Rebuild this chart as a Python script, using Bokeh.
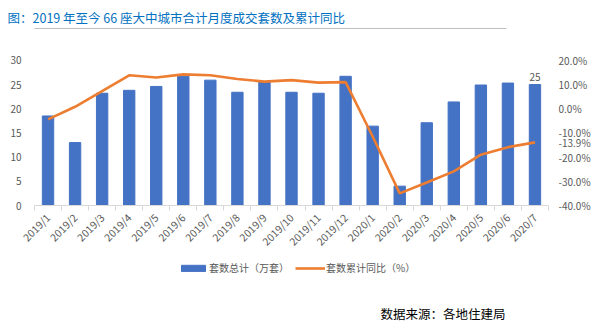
import math
from bokeh.plotting import figure
from bokeh.layouts import column
from bokeh.models import (Range1d, LinearAxis, FixedTicker, PrintfTickFormatter,
                          Label, Legend, LegendItem, ColumnDataSource, Title)
from bokeh.embed import file_html
from bokeh.resources import INLINE

months = ["2019/1", "2019/2", "2019/3", "2019/4", "2019/5", "2019/6", "2019/7",
          "2019/8", "2019/9", "2019/10", "2019/11", "2019/12", "2020/1", "2020/2",
          "2020/3", "2020/4", "2020/5", "2020/6", "2020/7"]
units_total = [18.5, 13.0, 23.2, 23.8, 24.6, 26.7, 25.9, 23.4, 25.5, 23.4, 23.2,
               26.7, 16.4, 4.0, 17.1, 21.4, 24.9, 25.3, 25.0]
yoy_cum = [-4.4, 0.8, 7.3, 13.8, 12.9, 14.2, 13.8, 12.3, 11.2, 11.8, 10.8, 11.0,
           -11.5, -35.0, -30.5, -25.9, -19.0, -15.9, -13.9]
left_ticks = [0, 5, 10, 15, 20, 25, 30]
right_ticks = [-40, -30, -20, -10, 0, 10, 20]
title_text = "图：2019 年至今 66 座大中城市合计月度成交套数及累计同比"
source_text = "数据来源：各地住建局"
legend_labels = ["套数总计（万套）", "套数累计同比（%）"]

FONT = "Noto Sans CJK SC"
GRAY = "#595959"
BLUE = "#4472C4"
ORANGE = "#ED7D31"
idx = list(range(len(months)))
src = ColumnDataSource(dict(x=idx, units=units_total, yoy=yoy_cum))

# ---------------- main chart (canvas y 0..256) ----------------
# frame spans y 28..206; value 30 (and 20 %) sits 32 px below the frame top
HEADROOM = 178.0 / 146.0
p = figure(width=593, height=256, output_backend="svg", toolbar_location=None,
           x_range=Range1d(-0.5, len(months) - 0.5),
           y_range=Range1d(0, 30 * HEADROOM),
           min_border_left=34, min_border_right=45, min_border_top=28,
           min_border_bottom=50, y_axis_location=None, x_axis_location=None)
p.outline_line_color = None
p.grid.visible = False
p.extra_y_ranges = {"pct": Range1d(-40, -40 + 60 * HEADROOM)}

bars = p.vbar(x="x", top="units", width=0.42, source=src, color=BLUE)
line = p.line(x="x", y="yoy", source=src, y_range_name="pct",
              line_color=ORANGE, line_width=2.6)

xa = LinearAxis(ticker=FixedTicker(ticks=idx, minor_ticks=[i - 0.5 for i in range(len(months) + 1)]))
xa.major_label_overrides = {i: m for i, m in enumerate(months)}
xa.major_label_orientation = math.pi / 4
xa.major_tick_line_color = None
xa.major_tick_out = 0
xa.minor_tick_out = 5
xa.minor_tick_in = 0
xa.minor_tick_line_color = "#D9D9D9"
xa.axis_line_color = "#D9D9D9"
xa.major_label_text_font = FONT
xa.major_label_text_font_size = "10.5px"
xa.major_label_text_color = GRAY
xa.major_label_standoff = 5
p.add_layout(xa, "below")

ya = LinearAxis(ticker=FixedTicker(ticks=left_ticks))
ya.axis_line_color = None
ya.major_tick_line_color = None
ya.minor_tick_line_color = None
ya.major_label_text_font = FONT
ya.major_label_text_font_size = "10px"
ya.major_label_text_color = GRAY
ya.major_label_standoff = 7
p.add_layout(ya, "left")

ya2 = LinearAxis(y_range_name="pct",
                 ticker=FixedTicker(ticks=right_ticks + [yoy_cum[-1]]),
                 formatter=PrintfTickFormatter(format="%.1f%%"))
ya2.axis_line_color = None
ya2.major_tick_line_color = None
ya2.minor_tick_line_color = None
ya2.major_label_text_font = FONT
ya2.major_label_text_font_size = "10px"
ya2.major_label_text_color = GRAY
ya2.major_label_standoff = 4
p.add_layout(ya2, "right")

# rule under the title: an unlabeled top axis limited to the title width
rule = LinearAxis(ticker=FixedTicker(ticks=[]), bounds=(-0.5, 16.95))
rule.axis_line_color = "#BFBFBF"
rule.axis_line_width = 1
rule.major_tick_line_color = None
rule.minor_tick_line_color = None
rule.major_label_text_font_size = "0px"
p.add_layout(rule, "above")

p.add_layout(Title(text=title_text, align="left", offset=-27, standoff=4,
                   text_font=FONT, text_font_size="12.5px",
                   text_font_style="normal", text_color="#0070C0"), "above")

last = len(months) - 1
p.add_layout(Label(x=last, y=units_total[last], text="%g" % units_total[last],
                   text_align="center", text_baseline="bottom", y_offset=4,
                   text_font=FONT, text_font_size="10px", text_color=GRAY))

# ---------------- legend + source strip (canvas y 256..327) ----------------
# (the column aligns this strip's frame with the chart's frame, 34 px from the left)
q = figure(width=593, height=71, output_backend="svg", toolbar_location=None,
           x_range=Range1d(1000, 1559), y_range=Range1d(1000, 1071),
           min_border=0, x_axis_location=None, y_axis_location=None)
q.outline_line_color = None
q.grid.visible = False
# legend keys: same series styles, hidden so only their legend swatches show
key_bar = q.vbar(x="x", top="units", width=0.42, source=src, color=BLUE, visible=False)
key_line = q.line(x="x", y="yoy", source=src, line_color=ORANGE, line_width=2.6,
                  visible=False)

legend = Legend(items=[LegendItem(label=legend_labels[0], renderers=[key_bar]),
                       LegendItem(label=legend_labels[1], renderers=[key_line])],
                orientation="horizontal", location=(144, 52),
                glyph_width=30, glyph_height=8, label_height=12,
                label_standoff=1, spacing=6, padding=0, margin=0,
                label_text_font=FONT, label_text_font_size="10px",
                label_text_color=GRAY, background_fill_alpha=0,
                border_line_color=None, inactive_fill_alpha=0)
q.add_layout(legend, "center")

q.add_layout(Label(x=346, y=14, x_units="screen", y_units="screen",
                   text=source_text, text_baseline="middle",
                   text_font=FONT, text_font_size="12.5px", text_color="#000000"))

layout = column(p, q, spacing=0)
open("out.html", "w").write(file_html(layout, INLINE))
